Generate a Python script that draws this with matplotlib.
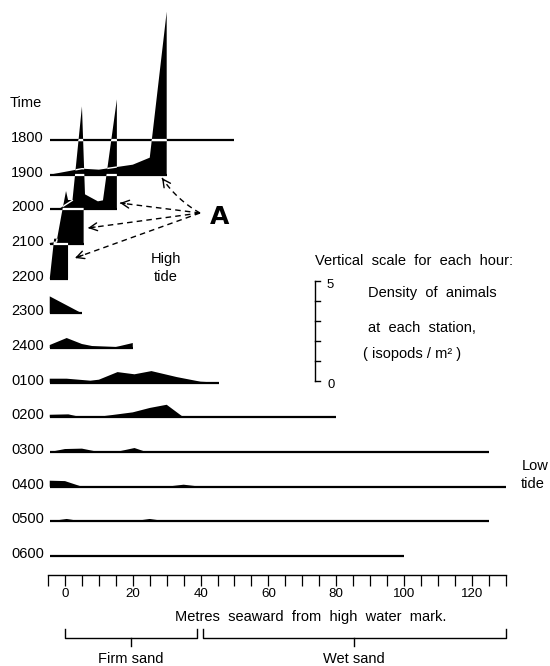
import numpy as np
import matplotlib
matplotlib.use("Agg")
import matplotlib.pyplot as plt
from matplotlib import font_manager as fm

# ---------------- data (metres seaward, isopods / m^2) ----------------
hours = ["1800", "1900", "2000", "2100", "2200", "2300", "2400",
         "0100", "0200", "0300", "0400", "0500", "0600"]

x_1800 = [-4.5, 50]
d_1800 = [0, 0]
x_1900 = [-4.5, 5, 10, 20, 25, 30, 30]
d_1900 = [0, 0.3, 0.25, 0.5, 0.85, 8.15, 0]
x_2000 = [-4.5, -1.5, 2.2, 5.0, 5.9, 9.7, 11.2, 15.3, 15.3]
d_2000 = [0, 0.05, 0.45, 5.15, 0.75, 0.4, 0.45, 5.5, 0]
x_2100 = [-4.5, -2.5, -1.0, 0.3, 0.9, 5.5, 5.5]
d_2100 = [0.05, 0.1, 1.5, 2.65, 2.2, 2.2, 0]
x_2200 = [-4.5, -3.2, 0.5, 0.9, 0.9]
d_2200 = [0, 2.0, 2.0, 1.9, 0]
x_2300 = [-4.5, -4.5, 5]
d_2300 = [0, 0.85, 0]
x_2400 = [-4.5, 0.5, 5, 8, 15, 20, 20]
d_2400 = [0.15, 0.5, 0.2, 0.1, 0.05, 0.25, 0]
x_0100 = [-4.5, 0.5, 7.5, 10, 15.5, 20.5, 25.5, 33, 40, 45.5]
d_0100 = [0.2, 0.2, 0.1, 0.15, 0.53, 0.42, 0.58, 0.28, 0.05, 0]
x_0200 = [-4.5, 1, 5, 10, 20, 25, 30, 35, 80]
d_0200 = [0.13, 0.15, 0, 0.03, 0.25, 0.47, 0.63, 0, 0]
x_0300 = [-4.5, 0, 5, 10, 15, 20.5, 24, 125]
d_0300 = [0, 0.15, 0.17, 0, 0, 0.2, 0, 0]
x_0400 = [-4.5, 0, 5, 30, 35, 40, 130]
d_0400 = [0.3, 0.28, 0, 0, 0.1, 0, 0]
x_0500 = [-4.5, 0.5, 5, 20, 25, 30, 125]
d_0500 = [0, 0.12, 0, 0, 0.12, 0, 0]
x_0600 = [-4.5, 100]
d_0600 = [0, 0]

rows = [(x_1800, d_1800), (x_1900, d_1900), (x_2000, d_2000), (x_2100, d_2100),
        (x_2200, d_2200), (x_2300, d_2300), (x_2400, d_2400), (x_0100, d_0100),
        (x_0200, d_0200), (x_0300, d_0300), (x_0400, d_0400), (x_0500, d_0500),
        (x_0600, d_0600)]

ruler_ticks = list(range(-5, 131, 5))
ruler_labels = [0, 20, 40, 60, 80, 100, 120]
firm_sand = (0, 39)
wet_sand = (40.7, 130)
scale_max = 5

# ---------------- layout helpers ----------------
W, H = 550, 666
X0_PX, PX_PER_M = 65.0, 3.39
Y0_PX, PX_PER_UNIT = 140.0, 20.0
ROW_PX = 34.67
STEP = ROW_PX / PX_PER_UNIT


def X(px):
    return (np.asarray(px, float) - X0_PX) / PX_PER_M


def Y(py):
    return (Y0_PX - np.asarray(py, float)) / PX_PER_UNIT


fig = plt.figure(figsize=(5.5, 6.66), dpi=100)
fig.patch.set_facecolor("white")
ax = fig.add_axes([0, 0, 1, 1])
ax.set_xlim(X(0), X(W))
ax.set_ylim(Y(H), Y(0))
for s in ("top", "left", "right"):
    ax.spines[s].set_visible(False)
ax.set_yticks([])

avail = {f.name for f in fm.fontManager.ttflist}
FAM = next((n for n in ["Liberation Sans Narrow", "DejaVu Sans Condensed",
                        "Liberation Sans", "DejaVu Sans"] if n in avail), "DejaVu Sans")
r = fig.canvas.get_renderer()
_t = fig.text(0, 0, "1800", family=FAM, fontsize=10)
FS = 10 * 32.5 / _t.get_window_extent(r).width
_t.remove()


def txt(px, py, s, ha="left", size=None, **kw):
    ax.text(X(px), Y(py), s, ha=ha, va="baseline",
            fontsize=FS if size is None else size, family=kw.pop("family", FAM), **kw)


# ---------------- rows ----------------
fills = []
for i, (xs, ds) in enumerate(rows):
    base = -i * STEP
    xs = np.asarray(xs, float)
    ds = np.asarray(ds, float)
    coll = ax.fill_between(xs, base, base + ds, facecolor="black", edgecolor="none",
                           lw=0, zorder=2)
    ax.plot([xs[0], xs[-1]], [base, base], color="black", lw=1.6,
            solid_capstyle="butt", zorder=3)
    fills.append(coll)
    txt(11, Y0_PX + i * ROW_PX + 2, hours[i])

# outline of an upper row shows white where it crosses a lower row's fill
for i, (xs, ds) in enumerate(rows):
    base = -i * STEP
    xs = np.asarray(xs, float)
    ds = np.asarray(ds, float)
    for j in range(i + 1, len(rows)):
        for p in fills[j].get_paths():
            l1, = ax.plot(xs, base + ds, color="white", lw=1.0, zorder=5)
            l2, = ax.plot([xs[0], xs[-1]], [base, base], color="white", lw=1.6,
                          solid_capstyle="butt", zorder=5)
            l1.set_clip_path(p, ax.transData)
            l2.set_clip_path(p, ax.transData)

txt(10, 107, "Time")

# ---------------- ruler (x axis) ----------------
ax.spines["bottom"].set_position(("data", float(Y(575))))
ax.spines["bottom"].set_bounds(ruler_ticks[0], ruler_ticks[-1])
ax.spines["bottom"].set_linewidth(1.0)
ax.set_xticks(ruler_ticks)
ax.set_xticklabels([str(v) if v in ruler_labels else "" for v in ruler_ticks],
                   family=FAM, fontsize=FS * 0.92)
ax.tick_params(axis="x", direction="out", length=8, width=0.9, pad=1.5, color="black")
txt(311, 621, "Metres  seaward  from  high  water  mark.", ha="center")

# brackets
for (a, b), label in ((firm_sand, "Firm sand"), (wet_sand, "Wet sand")):
    ax.plot([a, a, b, b], Y([629, 638, 638, 629]), color="black", lw=1.0)
    m = (a + b) / 2
    ax.plot([m, m], Y([638, 646]), color="black", lw=1.0)
    txt(X0_PX + m * PX_PER_M, 663, label, ha="center")

# ---------------- vertical scale ----------------
bar_x = X(315)
bar_y0 = Y(381)
ax.plot([bar_x, bar_x], [bar_y0, bar_y0 + scale_max], color="black", lw=1.0)
for k in range(scale_max + 1):
    ax.plot([bar_x, bar_x + 1.5], [bar_y0 + k, bar_y0 + k], color="black", lw=1.0)
txt(327, 288, str(scale_max), size=FS * 0.9)
txt(327, 388, "0", size=FS * 0.9)
txt(315, 265, "Vertical  scale  for  each  hour:")
txt(368, 297, "Density  of  animals")
txt(368, 332, "at  each  station,")
txt(363, 358, "( isopods / m\u00b2 )")

txt(522, 470, "Low")
txt(521, 488, "tide")
txt(166, 263, "High", ha="center")
txt(166, 281, "tide", ha="center")

# ---------------- label A with dashed arrows ----------------
ax.text(X(220), Y(224), "A", ha="center", va="baseline", fontsize=18,
        family="DejaVu Sans", fontweight="heavy")

ORIG = (200, 213)
targets = [((162, 178), (177, 200)), ((120, 203), None), ((88, 228), None), ((75, 258), None)]
tt = np.linspace(0, 1, 80)
for p1, c in targets:
    p0 = ORIG
    if c is None:
        c = ((p0[0] + p1[0]) / 2, (p0[1] + p1[1]) / 2)
    bx = (1 - tt) ** 2 * p0[0] + 2 * (1 - tt) * tt * c[0] + tt ** 2 * p1[0]
    by = (1 - tt) ** 2 * p0[1] + 2 * (1 - tt) * tt * c[1] + tt ** 2 * p1[1]
    ax.plot(X(bx), Y(by), color="black", lw=1.0, ls=(0, (4, 3)), zorder=6)
    ax.annotate("", xy=(float(X(bx[-1])), float(Y(by[-1]))),
                xytext=(float(X(bx[-6])), float(Y(by[-6]))),
                arrowprops=dict(arrowstyle="->,head_length=0.55,head_width=0.28",
                                lw=1.0, color="black", shrinkA=0, shrinkB=0),
                zorder=6)

fig.savefig("out.png", dpi=100, facecolor="white")
